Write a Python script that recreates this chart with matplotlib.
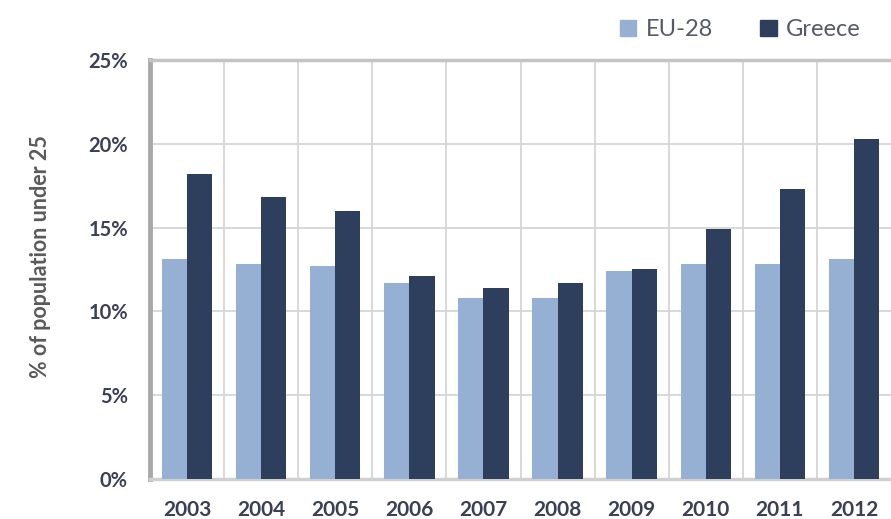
import numpy as np
import matplotlib
matplotlib.use('Agg')
import matplotlib.pyplot as plt
from matplotlib.patches import Patch

years = ['2003', '2004', '2005', '2006', '2007', '2008', '2009', '2010', '2011', '2012']
eu28 = [13.1, 12.8, 12.7, 11.7, 10.8, 10.8, 12.4, 12.8, 12.8, 13.1]
greece = [18.2, 16.8, 16.0, 12.1, 11.4, 11.7, 12.5, 14.9, 17.3, 20.3]
yticks = [0, 5, 10, 15, 20, 25]

c_eu = '#95B0D3'
c_gr = '#2E3F5E'
txt = '#3B4055'

plt.rcParams['font.family'] = ['Lato', 'DejaVu Sans']

fig = plt.figure(figsize=(8.91, 5.19), dpi=100)
ax = fig.add_axes([0.1684, 0.0771, 0.8316, 0.8073])

x = np.arange(len(years))
w = 0.34
ax.bar(x - w / 2, eu28, w, color=c_eu, zorder=3)
ax.bar(x + w / 2, greece, w, color=c_gr, zorder=3)

ax.set_xlim(-0.5, len(years) - 0.5)
ax.set_ylim(0, 25)
ax.set_yticks(yticks)
ax.set_yticklabels([f'{v}%' for v in yticks], fontsize=14.5, fontweight='bold', color=txt)
ax.set_xticks(x)
ax.set_xticklabels(years, fontsize=15, fontweight='bold', color=txt)
ax.tick_params(axis='y', length=0, pad=16)
ax.tick_params(axis='x', length=0, pad=15)

# grid lines between categories and at the percent steps
for b in np.arange(0.5, len(years) - 0.5, 1):
    ax.axvline(b, color='#d6d6d6', lw=1.3, zorder=1)
for v in yticks[1:-1]:
    ax.axhline(v, color='#d6d6d6', lw=1.3, zorder=1)

ax.spines['right'].set_visible(False)
ax.spines['left'].set_color('#a8a8a8')
ax.spines['left'].set_linewidth(3.5)
ax.spines['top'].set_color('#c4c4c4')
ax.spines['top'].set_linewidth(2.5)
ax.spines['bottom'].set_color('#d0d0d0')
ax.spines['bottom'].set_linewidth(2.5)

fig.text(0.046, 0.505, '% of population under 25', rotation=90, ha='center', va='center',
         fontsize=15.5, fontweight='bold', color='#5a5a5a')

handles = [Patch(color=c_eu, label='EU-28'), Patch(color=c_gr, label='Greece')]
fig.legend(handles=handles, loc='center right', bbox_to_anchor=(0.99, 0.943), ncol=2,
           frameon=False, fontsize=17, labelcolor='#555a66', handlelength=0.7, handleheight=0.7,
           handletextpad=0.4, columnspacing=2.0)

plt.savefig('out.png', dpi=100)
